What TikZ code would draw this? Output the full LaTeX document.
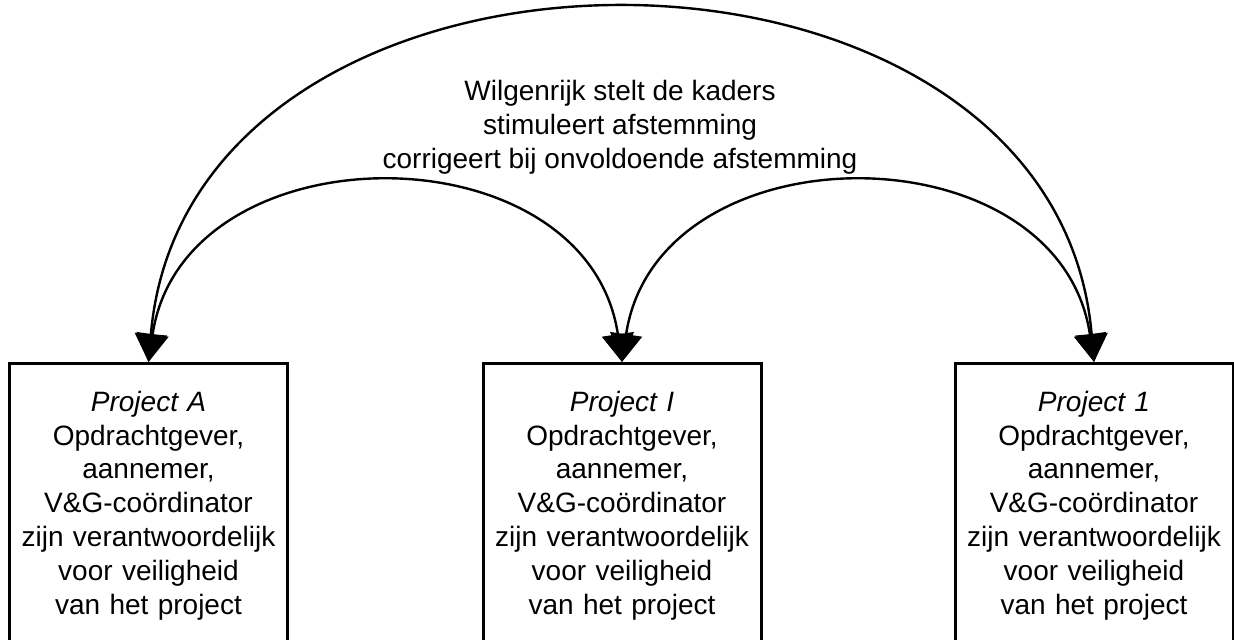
\documentclass[tikz,border=0pt]{standalone}
\usepackage{fontspec}
\setmainfont{Liberation Sans}
\usetikzlibrary{arrows.meta}
\tikzset{
  projbox/.style={draw, line width=1.5pt, inner sep=0pt, text width=139pt,
    align=center, minimum height=142pt, anchor=north,
    font=\fontsize{14}{16.9}\selectfont},
  link/.style={line width=1.2pt,
    {Triangle[length=14pt,width=16pt]}-{Triangle[length=14pt,width=16pt]}}
}
\begin{document}
\begin{tikzpicture}[x=0.5pt,y=0.5pt]
  \useasboundingbox (0,0) rectangle (1234,639);
  \clip (0,0) rectangle (1234,639);
  % projects
  \node[projbox] (projA) at (148.5,277) {\textit{Project A}\\ Opdrachtgever,\\ aannemer,\\ V\&G-coördinator\\ zijn verantwoordelijk\\ voor veiligheid\\ van het project};
  \node[projbox] (projI) at (622,277) {\textit{Project I}\\ Opdrachtgever,\\ aannemer,\\ V\&G-coördinator\\ zijn verantwoordelijk\\ voor veiligheid\\ van het project};
  \node[projbox] (projOne) at (1094,277) {\textit{Project 1}\\ Opdrachtgever,\\ aannemer,\\ V\&G-coördinator\\ zijn verantwoordelijk\\ voor veiligheid\\ van het project};
  % kaders
  \node[align=center, font=\fontsize{14}{17}\selectfont] (kader) at (620,512) {Wilgenrijk stelt de kaders\\ stimuleert afstemming\\ corrigeert bij onvoldoende afstemming};
  % arcs
  \draw[link] (projA.north) .. controls +(40,467) and +(-40,467) .. (projOne.north);
  \draw[link] (projA.north) .. controls +(35,236) and +(-35,236) .. (projI.north);
  \draw[link] (projI.north) .. controls +(35,236) and +(-35,236) .. (projOne.north);
\end{tikzpicture}
\end{document}
